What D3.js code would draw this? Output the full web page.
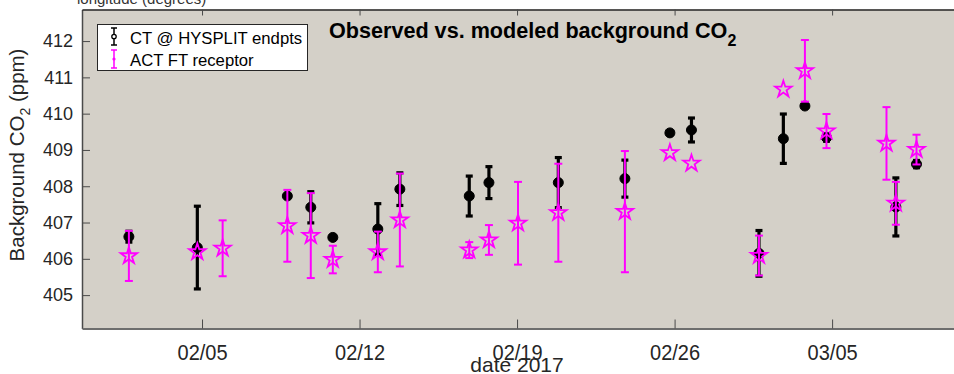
<!DOCTYPE html>
<html>
<head>
<meta charset="utf-8">
<script src="https://cdn.jsdelivr.net/npm/d3@7"></script>
<style>
  html, body { margin: 0; padding: 0; background: #fff; }
  svg { display: block; font-family: "Liberation Sans", Arial, Helvetica, sans-serif; }
</style>
</head>
<body>
<svg id="chart" width="954" height="374"></svg>
<script>
// ---------------- data ----------------
const dates = [
  "2017-02-01T18:00", "2017-02-04T19:00", "2017-02-05T22:00", "2017-02-08T19:00",
  "2017-02-09T20:00", "2017-02-10T19:30", "2017-02-12T19:30", "2017-02-13T19:00",
  "2017-02-16T21:00", "2017-02-17T18:00", "2017-02-19T01:00", "2017-02-20T20:00",
  "2017-02-23T19:00", "2017-02-25T19:00", "2017-02-26T18:00", "2017-03-01T18:00",
  "2017-03-02T20:00", "2017-03-03T19:00", "2017-03-04T18:00", "2017-03-07T10:00",
  "2017-03-07T20:00", "2017-03-08T18:00"
];
// CT @ HYSPLIT endpts (ppm) and 1-sigma
const ctValues = [406.61, 406.31, null, 407.73, 407.42, 406.59, 406.82, 407.92, 407.73, 408.10, null, 408.10,
                  408.21, 409.47, 409.55, 406.15, 409.31, 410.21, 409.34, null, 407.43, 408.61];
const ctErrors = [0.15, 1.14, null, 0, 0.43, 0, 0.70, 0.45, 0.55, 0.44, null, 0.69,
                  0.51, 0, 0.33, 0.63, 0.68, 0, 0.10, null, 0.80, 0.10];
// ACT FT receptor (ppm) and 1-sigma
const actValues = [406.08, 406.19, 406.29, 406.91, 406.64, 405.98, 406.19, 407.07, 406.24, 406.52, 406.98, 407.27,
                   407.30, 408.92, 408.63, 406.09, 410.67, 411.18, 409.52, 409.18, 407.53, 409.01];
const actErrors = [0.69, 0.05, 0.77, 0.99, 1.17, 0.38, 0.56, 1.28, 0.22, 0.41, 1.14, 1.35,
                   1.67, 0, 0, 0.55, 0, 0.85, 0.47, 1.00, 0.59, 0.41];
const yTicks = [405, 406, 407, 408, 409, 410, 411, 412];
const xTicks = ["2017-02-05", "2017-02-12", "2017-02-19", "2017-02-26", "2017-03-05"];
const xDomain = ["2017-01-30T16:00", "2017-03-10T10:00"];
const yDomain = [404.08, 412.87];
const seriesNames = ["CT @ HYSPLIT endpts", "ACT FT receptor"];
const titleText = "Observed vs. modeled background CO";
const yLabelText = "Background CO";
const xLabelText = "date 2017";
const topLabelText = "longitude (degrees)";

// ---------------- layout ----------------
const plot = { left: 82, top: 9.5, right: 954, bottom: 328.5 };
const parseT = d3.utcParse("%Y-%m-%dT%H:%M");
const parseD = d3.utcParse("%Y-%m-%d");

const x = d3.scaleUtc().domain(xDomain.map(parseT)).range([plot.left, plot.right]);
const y = d3.scaleLinear().domain(yDomain).range([plot.bottom, plot.top]);

const svg = d3.select("#chart");

// top-cut label from overlapping axis
svg.append("text").attr("x", 77).attr("y", 4).attr("font-size", 15).attr("fill", "#333").text(topLabelText);

// plot background
svg.append("rect").attr("x", plot.left).attr("y", plot.top)
  .attr("width", plot.right - plot.left).attr("height", plot.bottom - plot.top)
  .attr("fill", "#d4d0c8");

const axisColor = "#4a4a4a";

// y axis (ticks inward)
const yAxis = svg.append("g").attr("transform", `translate(${plot.left},0)`)
  .call(d3.axisLeft(y).tickValues(yTicks).tickSizeInner(-8).tickSizeOuter(0).tickPadding(9));
yAxis.select(".domain").attr("stroke", axisColor).attr("stroke-width", 1.5);
yAxis.selectAll(".tick line").attr("stroke", axisColor).attr("stroke-width", 1);
yAxis.selectAll(".tick text").attr("font-size", 18).attr("fill", "#262626")
  .attr("font-family", "Liberation Sans, Arial, sans-serif");

// x axis bottom
const xAxis = svg.append("g").attr("transform", `translate(0,${plot.bottom})`)
  .call(d3.axisBottom(x).tickValues(xTicks.map(parseD)).tickFormat(d3.utcFormat("%m/%d"))
    .tickSizeInner(-9).tickSizeOuter(0).tickPadding(15));
xAxis.select(".domain").attr("stroke", "#6e6e6e").attr("stroke-width", 2);
xAxis.selectAll(".tick line").attr("stroke", axisColor).attr("stroke-width", 1);
xAxis.selectAll(".tick text").attr("font-size", 20).attr("fill", "#262626")
  .attr("font-family", "Liberation Sans Narrow, Liberation Sans, Arial, sans-serif")
  .attr("transform", "scale(1,1.08)");

// x axis top (other overlaid axes, ticks only)
const xTop = svg.append("g").attr("transform", `translate(0,${plot.top})`)
  .call(d3.axisTop(x).tickValues(xTicks.map(parseD)).tickFormat("").tickSizeInner(-6).tickSizeOuter(0));
xTop.select(".domain").attr("stroke", "#262626").attr("stroke-width", 1.5);
xTop.selectAll(".tick line").attr("stroke", axisColor).attr("stroke-width", 1);

// ---------------- data marks ----------------
const rows = dates.map((d, i) => ({
  t: parseT(d), ct: ctValues[i], ctE: ctErrors[i], act: actValues[i], actE: actErrors[i]
}));

const g = svg.append("g");
// CT series (black)
const ctRows = rows.filter(r => r.ct != null);
const ctG = g.append("g");
ctRows.filter(r => r.ctE > 0).forEach(r => {
  const cx = x(r.t), y0 = y(r.ct - r.ctE), y1 = y(r.ct + r.ctE);
  ctG.append("line").attr("x1", cx).attr("x2", cx).attr("y1", y0).attr("y2", y1)
    .attr("stroke", "#000").attr("stroke-width", 3.2);
  [y0, y1].forEach(yy => ctG.append("line").attr("x1", cx - 3.5).attr("x2", cx + 3.5)
    .attr("y1", yy).attr("y2", yy).attr("stroke", "#000").attr("stroke-width", 3.2));
});
ctG.selectAll("circle").data(ctRows).join("circle")
  .attr("cx", r => x(r.t)).attr("cy", r => y(r.ct)).attr("r", 5)
  .attr("fill", "#000").attr("stroke", "#000").attr("stroke-width", 1);

// ACT series (magenta)
const mag = "#ff00ff";
const actRows = rows.filter(r => r.act != null);
const actG = g.append("g");
actRows.filter(r => r.actE > 0.06).forEach(r => {
  const cx = x(r.t), y0 = y(r.act - r.actE), y1 = y(r.act + r.actE);
  actG.append("line").attr("x1", cx).attr("x2", cx).attr("y1", y0).attr("y2", y1)
    .attr("stroke", mag).attr("stroke-width", 2);
  [y0, y1].forEach(yy => actG.append("line").attr("x1", cx - 4).attr("x2", cx + 4)
    .attr("y1", yy).attr("y2", yy).attr("stroke", mag).attr("stroke-width", 2));
});
const star = d3.symbol().type(d3.symbolStar).size(84);
actG.selectAll("path.star").data(actRows).join("path").attr("class", "star")
  .attr("d", star).attr("transform", r => `translate(${x(r.t)},${y(r.act)})`)
  .attr("fill", "none").attr("stroke", mag).attr("stroke-width", 1.8).attr("stroke-linejoin", "miter");

// ---------------- title and labels ----------------
const title = svg.append("text").attr("x", 329).attr("y", 38)
  .attr("font-size", 21.6).attr("font-weight", "bold").attr("fill", "#000");
title.append("tspan").text(titleText);
title.append("tspan").attr("dy", 8).attr("font-size", 16).text("2");

const yl = svg.append("text").attr("transform", `translate(24,${(plot.top + plot.bottom) / 2 - 14}) rotate(-90)`)
  .attr("text-anchor", "middle").attr("font-size", 20.5).attr("fill", "#262626");
yl.append("tspan").text(yLabelText);
yl.append("tspan").attr("dy", 6).attr("font-size", 14).text("2");
yl.append("tspan").attr("dy", -6).text(" (ppm)");

svg.append("text").attr("x", (plot.left + plot.right) / 2 - 1).attr("y", 372)
  .attr("text-anchor", "middle").attr("font-size", 21).attr("fill", "#262626")
  .attr("font-family", "Liberation Sans Narrow, Liberation Sans, Arial, sans-serif").text(xLabelText);

// ---------------- legend ----------------
const lg = svg.append("g");
lg.append("rect").attr("x", 97.5).attr("y", 24.5).attr("width", 210).attr("height", 46)
  .attr("fill", "#fff").attr("stroke", "#262626").attr("stroke-width", 1);
const lx = 114;
lg.append("line").attr("x1", lx).attr("x2", lx).attr("y1", 28).attr("y2", 45).attr("stroke", "#000").attr("stroke-width", 1.5);
[28, 45].forEach(yy => lg.append("line").attr("x1", lx - 3).attr("x2", lx + 3).attr("y1", yy).attr("y2", yy).attr("stroke", "#000").attr("stroke-width", 1.5));
lg.append("circle").attr("cx", lx).attr("cy", 36.5).attr("r", 2.2).attr("fill", "#fff").attr("stroke", "#000").attr("stroke-width", 1.3);
lg.append("line").attr("x1", lx).attr("x2", lx).attr("y1", 50).attr("y2", 68).attr("stroke", mag).attr("stroke-width", 1.5);
[50, 68].forEach(yy => lg.append("line").attr("x1", lx - 3).attr("x2", lx + 3).attr("y1", yy).attr("y2", yy).attr("stroke", mag).attr("stroke-width", 1.5));
lg.append("circle").attr("cx", lx).attr("cy", 59).attr("r", 1.6).attr("fill", mag);
lg.append("text").attr("x", 130).attr("y", 44).attr("font-size", 16.7).attr("fill", "#000").text(seriesNames[0]);
lg.append("text").attr("x", 130).attr("y", 65.5).attr("font-size", 16.7).attr("fill", "#000").text(seriesNames[1]);
</script>
</body>
</html>
